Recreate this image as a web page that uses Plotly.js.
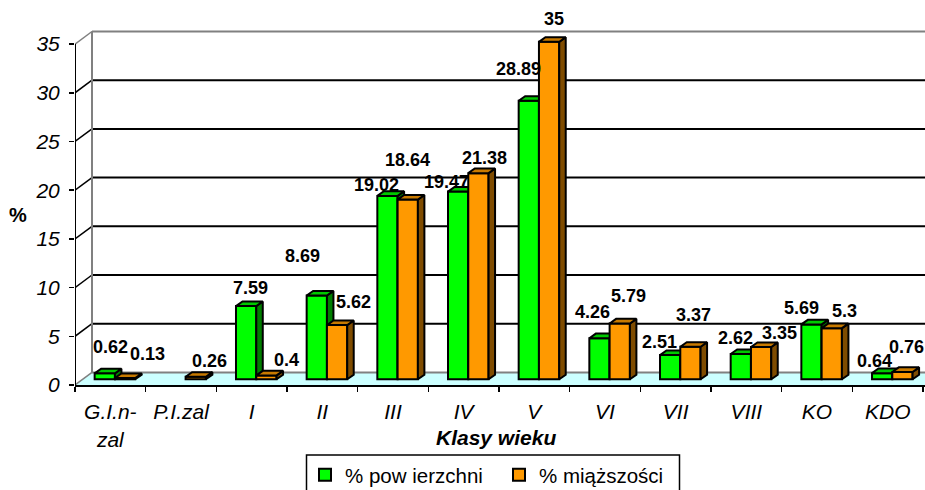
<!DOCTYPE html>
<html>
<head>
<meta charset="utf-8">
<script src="https://cdn.plot.ly/plotly-3.0.1.min.js"></script>
<style>html,body{margin:0;padding:0;background:#fff;overflow:hidden}</style>
</head>
<body>
<div id="chart" style="width:925px;height:490px"></div>
<script>
// ---- data ----
const categories = ['G.I.n-<br>zal','P.I.zal','I','II','III','IV','V','VI','VII','VIII','KO','KDO'];
const powierzchni = [0.62,null,7.59,8.69,19.02,19.47,28.89,4.26,2.51,2.62,5.69,0.64];
const miazszosci  = [0.13,0.26,0.4,5.62,18.64,21.38,35,5.79,3.37,3.35,5.3,0.76];
const yTicks = [0,5,10,15,20,25,30,35];

// ---- label nudges from the top of each bar, in pixels ----
const greenNudgeX = [5.7,0,4.4,-14.8,-10.8,-12.1,-10.3,-6.5,-11.1,-5.8,-9.5,-7.2];
const greenNudgeY = [26.6,0,18.1,39.5,11,9.9,31.8,26.5,13.1,16,16.5,12.4];
const orangeNudgeX = [22.9,14.2,19.6,16.9,-0.3,5.6,4.9,9.2,2.6,17.9,13.2,4.5];
const orangeNudgeY = [24,16.1,15.4,23.1,39.6,15.2,22.9,27.5,31.8,14,17.2,25.3];

// ---- geometry of the oblique projection ----
const W = 925, H = 490;
const plotL = 75, plotB = 385, plotT = 28;
const pxPerCat = 70.67, pxPerUnit = 9.74;
const xMax = (W - plotL) / pxPerCat;
const yMax = (plotB - plotT) / pxPerUnit;
const wallDX = 17 / pxPerCat, wallDY = 12.6 / pxPerUnit;   // depth of the floor
const barDX = 6.5 / pxPerCat, barDY = 4.6 / pxPerUnit;     // depth of one bar
const barBase = 5.7 / pxPerUnit;                           // bars stand inside the floor
const barScale = 0.99;                                     // bars sit slightly deeper than the axis plane
const barStart = 0.278, barWidth = 0.287;
const edge = 2;

const FONT = 'Liberation Sans, Arial, sans-serif';
const GREEN = {front:'#00FF00', top:'#00C800', side:'#007F00'};
const ORANGE = {front:'#FF9900', top:'#C87A00', side:'#7F4C00'};

function barX(i, seriesIndex){ return i + barStart + seriesIndex * barWidth; }
function barTop(v){ return barBase + v * barScale; }

function facePolys(values, seriesIndex, kind){
  const xs = [], ys = [];
  values.forEach((v, i) => {
    if (v === null) return;
    const x0 = barX(i, seriesIndex), x1 = x0 + barWidth, t = barTop(v);
    if (kind === 'top'){
      xs.push(x0, x1, x1 + barDX, x0 + barDX, x0, null);
      ys.push(t, t, t + barDY, t + barDY, t, null);
    } else {
      xs.push(x1, x1 + barDX, x1 + barDX, x1, x1, null);
      ys.push(t, t + barDY, barBase + barDY, barBase, t, null);
    }
  });
  return {x: xs, y: ys};
}

function seriesTraces(name, values, seriesIndex, colors, xa, ya){
  const centers = values.map((v, i) => barX(i, seriesIndex) + barWidth / 2);
  const heights = values.map(v => v === null ? null : v * barScale);
  const out = [{
    type:'bar', name, x:centers, y:heights, base:values.map(() => barBase), width:barWidth,
    xaxis:xa, yaxis:ya, hoverinfo:'skip', cliponaxis:false,
    marker:{color:colors.front, line:{color:'#000', width:edge}}
  }];
  ['side','top'].forEach(kind => {
    const p = facePolys(values, seriesIndex, kind);
    out.push({
      type:'scatter', mode:'lines', x:p.x, y:p.y, fill:'toself', fillcolor:colors[kind],
      line:{color:'#000', width:edge, shape:'linear'}, xaxis:xa, yaxis:ya,
      showlegend:false, hoverinfo:'skip', cliponaxis:false, connectgaps:false
    });
  });
  return out;
}

// ---- walls, floor and gridlines ----
const shapes = [];
shapes.push({type:'path', layer:'below', xref:'x', yref:'y', line:{width:0}, fillcolor:'#CCFFFF',
  path:`M0,0 L${wallDX},${wallDY} L${xMax+1},${wallDY} L${xMax+1},0 Z`});
yTicks.forEach(t => {
  const edgeTick = (t === 0 || t === 35);
  const col = edgeTick ? '#808080' : '#000';
  shapes.push({type:'line', layer:'below', xref:'x', yref:'y', x0:wallDX, x1:xMax, y0:t+wallDY, y1:t+wallDY,
    line:{color:col, width:2}});
  shapes.push({type:'line', layer:'below', xref:'x', yref:'y', x0:0, x1:wallDX, y0:t, y1:t+wallDY,
    line:{color:col, width:1.5}});
});
shapes.push({type:'line', layer:'below', xref:'x', yref:'y', x0:wallDX, x1:wallDX, y0:wallDY, y1:35+wallDY,
  line:{color:'#808080', width:2}});

// legend frame (runs off the bottom of the picture as in the source)
const paperX = px => (px - plotL) / (W - plotL);
const paperY = py => (plotB - py) / (plotB - plotT);
shapes.push({type:'rect', xref:'paper', yref:'paper', layer:'above',
  x0:paperX(306.5), x1:paperX(679.5), y0:paperY(500), y1:paperY(455),
  line:{color:'#000', width:1.5}, fillcolor:'rgba(0,0,0,0)'});

// ---- value labels ----
const annotations = [];
function addLabels(values, seriesIndex, nx, ny){
  values.forEach((v, i) => {
    if (v === null) return;
    annotations.push({
      xref:'x', yref:'y', x:barX(i, seriesIndex) + barWidth / 2, y:barTop(v),
      text:'<b>' + v + '</b>', showarrow:false, xanchor:'center', yanchor:'middle',
      xshift:nx[i], yshift:ny[i], font:{family:FONT, size:18, color:'#000'}
    });
  });
}
addLabels(powierzchni, 0, greenNudgeX, greenNudgeY);
addLabels(miazszosci, 1, orangeNudgeX, orangeNudgeY);
annotations.push({xref:'paper', yref:'paper', x:paperX(18), y:paperY(215), text:'<b>%</b>',
  showarrow:false, xanchor:'center', yanchor:'middle', font:{family:FONT, size:20, color:'#000'}});
annotations.push({xref:'paper', yref:'paper', x:paperX(496), y:paperY(438), text:'<b><i>Klasy wieku</i></b>',
  showarrow:false, xanchor:'center', yanchor:'middle', font:{family:FONT, size:21, color:'#000'}});

const traces = [
  ...seriesTraces('% pow ierzchni', powierzchni, 0, GREEN, 'x', 'y'),
  {type:'scatter', mode:'lines', x:[0,0], y:[0,35], line:{color:'#000', width:2},
   showlegend:false, hoverinfo:'skip', cliponaxis:false},
  ...seriesTraces('% miąższości', miazszosci, 1, ORANGE, 'x2', 'y2')
];

const tickFont = {family:FONT, size:21, color:'#000', style:'italic'};
const layout = {
  width:W, height:H, paper_bgcolor:'#fff', plot_bgcolor:'rgba(0,0,0,0)',
  margin:{l:plotL, r:W-plotL-850, t:plotT, b:H-plotB, pad:0, autoexpand:false},
  barmode:'overlay', showlegend:true, hovermode:false,
  font:{family:FONT},
  xaxis:{
    type:'linear', range:[0,xMax], showgrid:false, zeroline:false, showline:true, linecolor:'#000', linewidth:2,
    tickmode:'array', tickvals:categories.map((c,i)=>i+0.5), ticktext:categories, ticks:'', ticklabelstandoff:7,
    tickfont:tickFont, tickangle:0, fixedrange:true,
    minor:{tickmode:'array', tickvals:categories.map((c,i)=>i).concat([categories.length]), ticks:'outside', ticklen:5, tickwidth:1.5, tickcolor:'#000', showgrid:false}
  },
  yaxis:{
    type:'linear', range:[0,yMax], showgrid:false, zeroline:false, showline:false,
    tickmode:'array', tickvals:yTicks, ticks:'outside', ticklen:5, tickwidth:1.5, tickcolor:'#000', ticklabelstandoff:5,
    tickfont:tickFont, fixedrange:true
  },
  xaxis2:{overlaying:'x', range:[0,xMax], visible:false, fixedrange:true},
  yaxis2:{overlaying:'y', range:[0,yMax], visible:false, fixedrange:true},
  legend:{
    orientation:'h', x:paperX(318), y:paperY(455), xanchor:'left', yanchor:'top',
    bgcolor:'rgba(0,0,0,0)', borderwidth:0, font:{family:FONT, size:20.5, color:'#000'},
    indentation:-13, entrywidth:162, entrywidthmode:'pixels', traceorder:'normal', itemclick:false, itemdoubleclick:false
  },
  shapes, annotations
};
Plotly.newPlot('chart', traces, layout, {displayModeBar:false, staticPlot:true});
</script>
</body>
</html>
